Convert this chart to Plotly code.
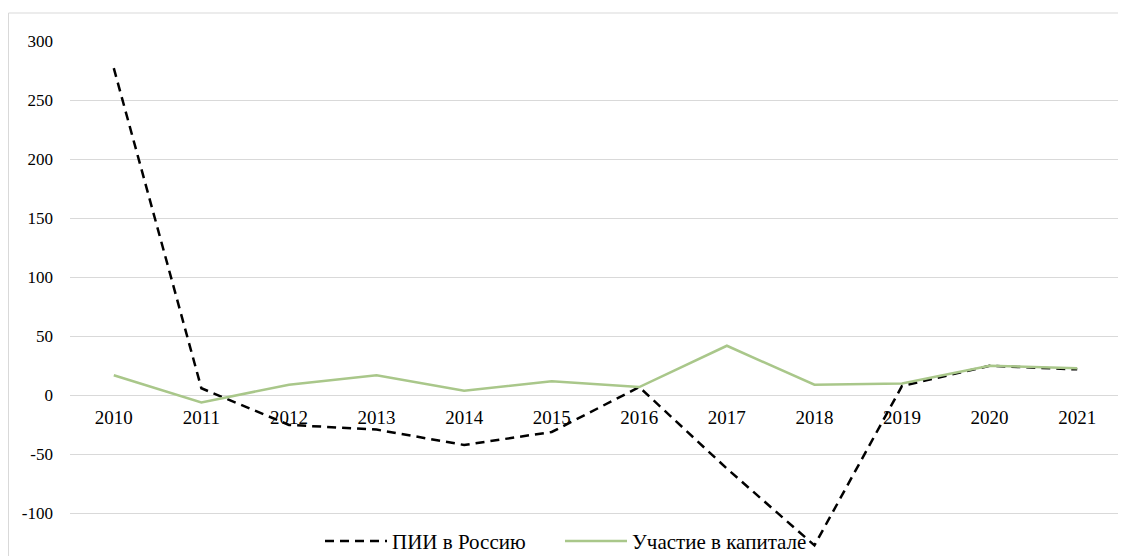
import plotly.graph_objects as go

years = ["2010", "2011", "2012", "2013", "2014", "2015", "2016", "2017", "2018", "2019", "2020", "2021"]
fdi_russia = [277, 6, -25, -29, -42, -31, 7, -62, -127, 8, 25, 22]
equity = [17, -6, 9, 17, 4, 12, 7, 42, 9, 10, 25, 23]
y_ticks = [-100, -50, 0, 50, 100, 150, 200, 250, 300]
y_tick_labels = [str(v) for v in y_ticks]

W, H = 1126, 556
OFF = 8  # page body margin offset
ML, MR, MT, MB = 70 - OFF, 13, 41 - OFF, OFF
ymin, ymax = -136, 300

fig = go.Figure()
fig.add_trace(go.Scatter(
    x=years, y=fdi_russia, mode="lines", name="ПИИ в Россию",
    line=dict(color="black", width=2.5, dash="9px,6px"), legend="legend",
))
fig.add_trace(go.Scatter(
    x=years, y=equity, mode="lines", name="Участие в капитале",
    line=dict(color="#A9C78A", width=2.5), legend="legend2",
))

pw = W - ML - MR
ph = H - MT - MB
fig.add_shape(
    type="rect", xref="paper", yref="paper",
    x0=(0.5 - ML) / pw, x1=(W + 10 - ML) / pw,
    y0=-0.1, y1=(H - MB - 5) / ph,
    line=dict(color="#D9D9D9", width=1), fillcolor="rgba(0,0,0,0)", layer="below",
)

legend_style = dict(
    orientation="h", xanchor="left", y=-MB / ph + 0.004, yanchor="bottom",
    bgcolor="rgba(0,0,0,0)", font=dict(size=21), itemwidth=62,
)

fig.update_layout(
    width=W, height=H,
    margin=dict(l=ML, r=MR, t=MT, b=MB, autoexpand=False),
    paper_bgcolor="white", plot_bgcolor="white",
    font=dict(family="Liberation Serif, Times New Roman, serif", color="black"),
    showlegend=True,
    legend=dict(x=(320 - OFF - ML) / pw, **legend_style),
    legend2=dict(x=(560 - OFF - ML) / pw, **legend_style),
    xaxis=dict(
        type="category", categoryorder="array", categoryarray=years,
        range=[-0.5, len(years) - 0.5], automargin=False,
        anchor="free", position=(0 - ymin) / (ymax - ymin),
        showgrid=False, showline=False, zeroline=False, ticks="",
        tickfont=dict(size=19), ticklabelstandoff=9,
    ),
    yaxis=dict(
        range=[ymin, ymax], tickvals=y_ticks, ticktext=y_tick_labels,
        automargin=False,
        showgrid=True, gridcolor="#D9D9D9", gridwidth=1,
        zeroline=True, zerolinecolor="#D9D9D9", zerolinewidth=1,
        showline=False, ticks="", tickfont=dict(size=17),
        ticklabelstandoff=16,
    ),
)

fig.write_html("out.html")
